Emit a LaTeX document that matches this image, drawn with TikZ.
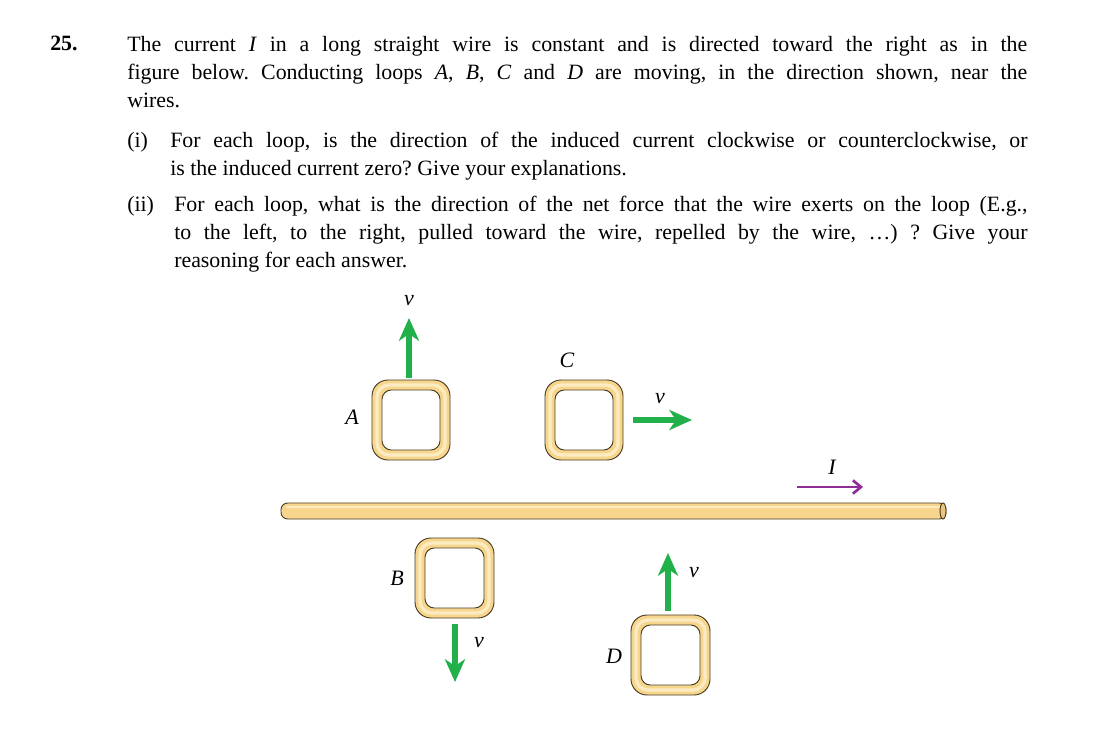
\documentclass[tikz,border=0pt]{standalone}
\usepackage{fontspec}
\setmainfont{Liberation Serif}
\frenchspacing
\definecolor{tan}{HTML}{F6D58C}
\definecolor{tanl}{HTML}{FCEBC2}
\definecolor{edge}{HTML}{4A3C22}
\definecolor{vgreen}{HTML}{22B04B}
\definecolor{ipurple}{HTML}{8E2C98}
\tikzset{
 txt/.style={anchor=north west,inner sep=0pt,font=\fontsize{16.4}{21}\selectfont,align=justify},
 lbl/.style={font=\fontsize{16.5}{18}\selectfont\itshape,inner sep=0pt},
 varr/.style={vgreen,line width=4.5pt,-{Stealth[length=17pt,width=15pt,inset=5pt]}},
 iarr/.style={ipurple,line width=2pt,-{Straight Barb[length=6pt,width=10pt]}},
}
\usetikzlibrary{arrows.meta}
\newcommand{\myloop}[5]{% name, x1,y1,x2,y2
 \draw[edge,line width=0.7pt,fill=tan,rounded corners=12pt] (#2,#3) rectangle (#4,#5);
 \draw[tanl,line width=2.5pt,rounded corners=9pt] (#2+5,#3+5) rectangle (#4-5,#5-5);
 \draw[edge,line width=0.7pt,fill=white,rounded corners=7pt] (#2+10,#3+10) rectangle (#4-10,#5-10);
 \coordinate (#1) at ({(#2+#4)/2},{(#3+#5)/2});
}
\begin{document}
\begin{tikzpicture}[x=0.75pt,y=-0.75pt]
\useasboundingbox (0,0) rectangle (1120,748);
\node[txt,font=\fontsize{16.4}{21}\selectfont\bfseries] (n) at (50,36) {25.};
\node[txt,text width=675pt] (p) at (127,36) {The current \textit{I} in a long straight wire is constant and is directed toward the right as in the\linebreak figure below. Conducting loops \textit{A}, \textit{B}, \textit{C} and \textit{D} are moving, in the direction shown, near the\linebreak wires.};
\node[txt] (i1) at (127,132) {(i)};
\node[txt,text width=643pt] (i) at (170,132) {For each loop, is the direction of the induced current clockwise or counterclockwise, or\linebreak is the induced current zero? Give your explanations.};
\node[txt] (ii1) at (127,196) {(ii)};
\node[txt,text width=640pt] (ii) at (174,196) {For each loop, what is the direction of the net force that the wire exerts on the loop (E.g.,\linebreak to the left, to the right, pulled toward the wire, repelled by the wire, \dots) ? Give your\linebreak reasoning for each answer.};
% wire
\draw[edge,line width=0.7pt,fill=tan,rounded corners=5pt] (281,503) rectangle (946,519);
\draw[tanl,line width=2pt] (286,507) -- (940,507);
\draw[edge,line width=0.7pt,fill=tan!80!brown] (943,511) ellipse[x radius=3,y radius=8];
% loops
\myloop{A}{372}{380}{450}{460}
\myloop{C}{545}{380}{623}{460}
\myloop{B}{415}{538}{494}{618}
\myloop{D}{631}{615}{710}{695}
\node[lbl] (la) at (352,417) {A};
\node[lbl] (lc) at (567,360) {C};
\node[lbl] (lb) at (397,578) {B};
\node[lbl] (ld) at (614,656) {D};
% velocity arrows
\coordinate (a0) at (409,378); \coordinate (a1) at (409,318);
\draw[varr] (a0) -- (a1); \node[lbl] (va) at (409,301) {v};
\coordinate (c0) at (633,420); \coordinate (c1) at (692,420);
\draw[varr] (c0) -- (c1); \node[lbl] (vc) at (660,399) {v};
\coordinate (b0) at (455,624); \coordinate (b1) at (455,682);
\draw[varr] (b0) -- (b1); \node[lbl] (vb) at (479,643) {v};
\coordinate (d0) at (668,611); \coordinate (d1) at (668,553);
\draw[varr] (d0) -- (d1); \node[lbl] (vd) at (694,573) {v};
\coordinate (i0) at (797,487); \coordinate (i1e) at (863,487);
\draw[iarr] (i0) -- (i1e); \node[lbl] (li) at (832,467) {I};
\end{tikzpicture}
\end{document}
